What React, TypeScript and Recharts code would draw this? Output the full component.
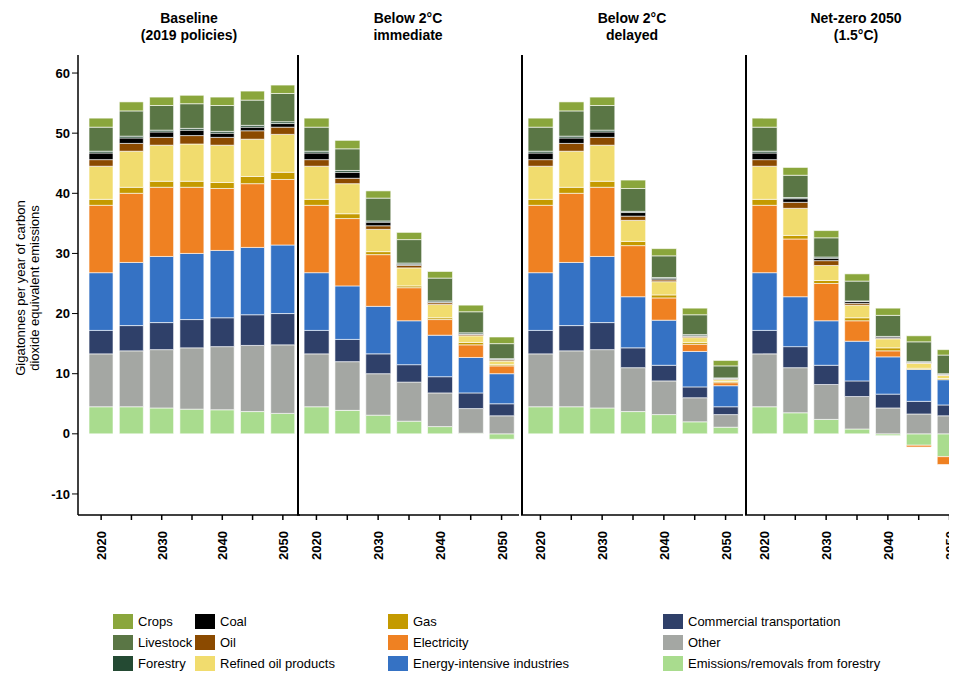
import React from 'react';
import { BarChart, Bar, XAxis, YAxis } from 'recharts';

const years = ['2020', '2025', '2030', '2035', '2040', '2045', '2050'];

// stack order, bottom to top
const seriesKeys = ['forRem', 'other', 'comm', 'eint', 'elec', 'gas', 'refined', 'oil', 'coal', 'forestry', 'livestock', 'crops'];
const seriesNames = ['Emissions/removals from forestry', 'Other', 'Commercial transportation', 'Energy-intensive industries', 'Electricity', 'Gas', 'Refined oil products', 'Oil', 'Coal', 'Forestry', 'Livestock', 'Crops'];
const seriesColors = ['#a9dc8e', '#a4a7a3', '#2f4069', '#3572c4', '#ef8122', '#c49a00', '#f1dc6e', '#8b4a00', '#000000', '#244a33', '#5a7645', '#8aa63c'];

const baseline = [
  [4.5, 8.8, 3.9, 9.6, 11.2, 1.0, 5.5, 1.1, 1.1, 0.3, 4.0, 1.5],
  [4.5, 9.3, 4.2, 10.5, 11.5, 1.0, 6.0, 1.3, 0.9, 0.3, 4.2, 1.5],
  [4.3, 9.7, 4.5, 11.0, 11.5, 1.0, 6.0, 1.3, 0.9, 0.3, 4.1, 1.4],
  [4.1, 10.2, 4.7, 11.0, 11.0, 1.0, 6.2, 1.4, 0.9, 0.3, 4.1, 1.4],
  [4.0, 10.5, 4.8, 11.2, 10.3, 1.0, 6.2, 1.3, 0.7, 0.3, 4.3, 1.4],
  [3.7, 11.0, 5.1, 11.2, 10.6, 1.2, 6.2, 1.4, 0.6, 0.3, 4.2, 1.5],
  [3.4, 11.4, 5.2, 11.4, 10.9, 1.2, 6.3, 1.2, 0.6, 0.3, 4.7, 1.4],
];
const immediate = [
  [4.5, 8.8, 3.9, 9.6, 11.2, 1.0, 5.5, 1.1, 1.1, 0.3, 4.0, 1.5],
  [3.9, 8.1, 3.7, 8.9, 11.2, 0.8, 5.0, 0.9, 1.0, 0.3, 3.6, 1.4],
  [3.1, 6.9, 3.3, 7.9, 8.6, 0.5, 3.7, 0.6, 0.6, 0.2, 3.8, 1.2],
  [2.1, 6.5, 2.9, 7.3, 5.5, 0.3, 3.0, 0.4, 0.2, 0.2, 3.9, 1.2],
  [1.2, 5.6, 2.7, 6.9, 2.6, 0.3, 2.2, 0.3, 0.1, 0.2, 3.8, 1.1],
  [0.1, 4.1, 2.6, 5.9, 2.1, 0.4, 1.1, 0.2, 0.1, 0.2, 3.5, 1.1],
  [-0.9, 3.0, 2.0, 5.0, 1.3, 0.2, 0.6, 0.2, 0.1, 0.1, 2.5, 1.1],
];
const delayed = [
  [4.5, 8.8, 3.9, 9.6, 11.2, 1.0, 5.5, 1.1, 1.1, 0.3, 4.0, 1.5],
  [4.5, 9.3, 4.2, 10.5, 11.5, 1.0, 6.0, 1.3, 0.9, 0.3, 4.2, 1.5],
  [4.3, 9.7, 4.5, 11.0, 11.5, 1.0, 6.0, 1.3, 0.9, 0.3, 4.1, 1.4],
  [3.7, 7.3, 3.3, 8.5, 8.5, 0.7, 3.5, 0.7, 0.6, 0.2, 3.8, 1.4],
  [3.2, 5.6, 2.6, 7.5, 3.7, 0.5, 2.2, 0.3, 0.2, 0.2, 3.6, 1.2],
  [2.0, 4.0, 1.8, 5.9, 1.2, 0.3, 0.8, 0.2, 0.1, 0.2, 3.3, 1.1],
  [1.1, 2.1, 1.3, 3.5, 0.5, 0.2, 0.3, 0.1, 0.1, 0.1, 2.0, 0.9],
];
const netZero = [
  [4.5, 8.8, 3.9, 9.6, 11.2, 1.0, 5.5, 1.1, 1.1, 0.3, 4.0, 1.5],
  [3.5, 7.5, 3.5, 8.3, 9.6, 0.6, 4.5, 1.0, 0.6, 0.2, 3.7, 1.3],
  [2.4, 5.8, 3.2, 7.4, 6.2, 0.5, 2.5, 0.8, 0.4, 0.2, 3.2, 1.2],
  [0.8, 5.4, 2.6, 6.6, 3.4, 0.5, 2.1, 0.3, 0.3, 0.1, 3.3, 1.2],
  [-0.3, 4.3, 2.3, 6.2, 1.0, 0.5, 1.5, 0.1, 0.2, 0.1, 3.5, 1.2],
  [-1.9, 3.3, 2.1, 5.3, -0.3, 0.2, 0.8, 0.1, 0.1, 0.1, 3.3, 1.0],
  [-3.8, 3.0, 1.8, 4.2, -1.3, 0.2, 0.5, 0.1, 0.1, 0.1, 3.1, 0.9],
];

const panels = [
  { title: ['Baseline', '(2019 policies)'], rows: baseline },
  { title: ['Below 2°C', 'immediate'], rows: immediate },
  { title: ['Below 2°C', 'delayed'], rows: delayed },
  { title: ['Net-zero 2050', '(1.5°C)'], rows: netZero },
];

const yTicks = [-10, 0, 10, 20, 30, 40, 50, 60];

const toData = (rows: number[][]) =>
  years.map((y, i) => {
    const d: any = { year: y };
    seriesKeys.forEach((k, j) => (d[k] = rows[i][j]));
    return d;
  });

const YearTick = (props: any) => {
  const { x, y, payload } = props;
  const show = payload.value.endsWith('0');
  return (
    <g>
      <line x1={x} x2={x} y1={y - 8} y2={y - 3} stroke="#000" strokeWidth={1.5} />
      {show && (
        <text x={x + 5} y={y + 8} transform={`rotate(-90 ${x + 5} ${y + 8})`} textAnchor="end" fontSize={13} fontWeight="bold" fill="#000">
          {payload.value}
        </text>
      )}
    </g>
  );
};

const legendOrder = [
  [11, 8, 5, 2],
  [10, 7, 4, 1],
  [9, 6, 3, 0],
];
const legendCols = [105, 187, 380, 655];

export default function App() {
  const font = 'Arial, "Liberation Sans", sans-serif';
  return (
    <div style={{ position: 'relative', width: 949, height: 669, overflow: 'hidden', fontFamily: font }}>
      <div style={{ position: 'absolute', left: -140, top: 266, width: 320, transform: 'rotate(-90deg)', textAlign: 'center', fontSize: 13, lineHeight: '14px' }}>
        Gigatonnes per year of carbon<br />dioxide equivalent emissions
      </div>
      {panels.map((p, i) => {
        const first = i === 0;
        const left = first ? 32 : 289 + (i - 1) * 224;
        const width = first ? 38 + 222 : 222;
        return (
          <div key={i} style={{ position: 'absolute', left, top: 0 }}>
            <div style={{ position: 'absolute', left: first ? 38 : 0, width: 222, top: 2, textAlign: 'center', fontWeight: 'bold', fontSize: 14, lineHeight: '17px' }}>
              {p.title[0]}<br />{p.title[1]}
            </div>
            <BarChart width={width} height={600} data={toData(p.rows)} stackOffset="sign" barCategoryGap="10%" margin={{ top: 47, right: 0, bottom: 0, left: 0 }}>
              <YAxis
                hide={!first}
                width={38}
                domain={[-13.5, 63]}
                ticks={yTicks}
                allowDataOverflow
                axisLine={{ stroke: '#000', strokeWidth: 1.5 }}
                tick={{ fill: '#000', fontSize: 13, fontWeight: 'bold' }}
                tickLine={{ stroke: '#000' }}
              />
              <XAxis
                dataKey="year"
                height={93}
                interval={0}
                axisLine={{ stroke: '#000', strokeWidth: 1.5 }}
                tickLine={false}
                tick={<YearTick />}
                padding={{ left: first ? 8 : 4, right: 2 }}
              />
              {seriesKeys.map((k, j) => (
                <Bar key={k} dataKey={k} name={seriesNames[j]} stackId="a" fill={seriesColors[j]} stroke="#fff" strokeWidth={0.6} isAnimationActive={false} />
              ))}
            </BarChart>
            {!first && <div style={{ position: 'absolute', left: 0, top: 47, width: 1.5, height: 460, background: '#000' }} />}
          </div>
        );
      })}
      {legendOrder.map((row, r) =>
        row.map((idx, c) => (
          <div key={`${r}-${c}`} style={{ position: 'absolute', left: legendCols[c], top: 606 + r * 21, display: 'flex', alignItems: 'center', fontSize: 13, whiteSpace: 'nowrap' }}>
            <span style={{ display: 'inline-block', width: 20, height: 15, background: seriesColors[idx], marginRight: 5 }} />
            {seriesNames[idx]}
          </div>
        ))
      )}
    </div>
  );
}
